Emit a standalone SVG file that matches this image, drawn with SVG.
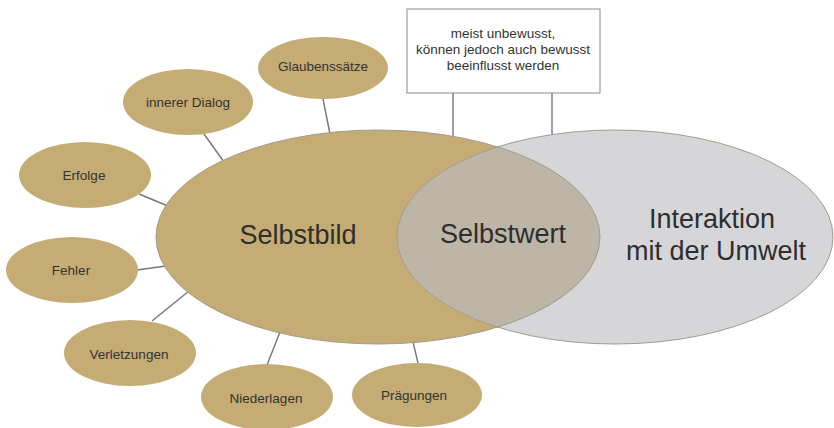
<svg xmlns="http://www.w3.org/2000/svg" width="834" height="428" viewBox="0 0 834 428">
  <style>
    .small { fill: #c5ab74; }
    .lbl { font-family: "Liberation Sans", Arial, sans-serif; font-size: 13.5px; fill: #333333; text-anchor: middle; }
    .big { font-family: "Liberation Sans", Arial, sans-serif; font-size: 27px; fill: #2e2e2e; text-anchor: middle; }
    .conn { stroke: #75757c; stroke-width: 1.4; fill: none; }
    .outline { fill: none; stroke: #a39b8a; stroke-width: 1; }
  </style>
  <defs>
    <clipPath id="clipGold">
      <ellipse cx="378" cy="237" rx="222" ry="107"/>
    </clipPath>
  </defs>
  <rect width="834" height="428" fill="#ffffff"/>

  <g id="connectors">
    <line class="conn" x1="323" y1="99" x2="330" y2="134"/>
    <line class="conn" x1="204" y1="134" x2="224" y2="162"/>
    <line class="conn" x1="139" y1="194" x2="168" y2="206"/>
    <line class="conn" x1="137" y1="270" x2="166" y2="266"/>
    <line class="conn" x1="152" y1="321" x2="189" y2="291"/>
    <line class="conn" x1="267" y1="365" x2="280" y2="332"/>
    <line class="conn" x1="418" y1="363" x2="413" y2="342"/>
    <line class="conn" x1="453" y1="93" x2="453" y2="138"/>
    <line class="conn" x1="552" y1="93" x2="552" y2="137"/>
  </g>

  <g id="selbstbild">
    <ellipse cx="378" cy="237" rx="222" ry="107" fill="#c5ab74"/>
  </g>
  <g id="interaktion">
    <ellipse cx="615" cy="237" rx="218" ry="107" fill="#d6d6d9"/>
  </g>
  <g id="selbstwert">
    <ellipse cx="615" cy="237" rx="218" ry="107" fill="#bdb5a6" clip-path="url(#clipGold)"/>
  </g>
  <g id="outlines">
    <ellipse class="outline" cx="378" cy="237" rx="222" ry="107"/>
    <ellipse class="outline" cx="615" cy="237" rx="218" ry="107"/>
  </g>
  <g id="big-labels">
    <text class="big" x="298" y="244">Selbstbild</text>
    <text class="big" x="503" y="243">Selbstwert</text>
    <text class="big" x="712" y="228">Interaktion</text>
    <text class="big" x="716" y="260">mit der Umwelt</text>
  </g>

  <g id="note">
    <rect x="407" y="9" width="193" height="84" fill="#ffffff" stroke="#8a8a8a" stroke-width="1"/>
    <text class="lbl" x="503" y="38">meist unbewusst,</text>
    <text class="lbl" x="503" y="54">können jedoch auch bewusst</text>
    <text class="lbl" x="503" y="70">beeinflusst werden</text>
  </g>

  <g id="glaubenssaetze">
    <ellipse class="small" cx="323" cy="68" rx="65" ry="31"/>
    <text class="lbl" x="323" y="71">Glaubenssätze</text>
  </g>
  <g id="innerer-dialog">
    <ellipse class="small" cx="188" cy="102" rx="65" ry="33"/>
    <text class="lbl" x="188" y="107">innerer Dialog</text>
  </g>
  <g id="erfolge">
    <ellipse class="small" cx="85" cy="175" rx="66" ry="33"/>
    <text class="lbl" x="84" y="180">Erfolge</text>
  </g>
  <g id="fehler">
    <ellipse class="small" cx="72" cy="270" rx="66" ry="33"/>
    <text class="lbl" x="71" y="275">Fehler</text>
  </g>
  <g id="verletzungen">
    <ellipse class="small" cx="130" cy="353" rx="66" ry="33"/>
    <text class="lbl" x="129" y="359">Verletzungen</text>
  </g>
  <g id="niederlagen">
    <ellipse class="small" cx="267" cy="397" rx="66" ry="33"/>
    <text class="lbl" x="266" y="403">Niederlagen</text>
  </g>
  <g id="praegungen">
    <ellipse class="small" cx="417" cy="395" rx="65" ry="32"/>
    <text class="lbl" x="414" y="400">Prägungen</text>
  </g>
</svg>
